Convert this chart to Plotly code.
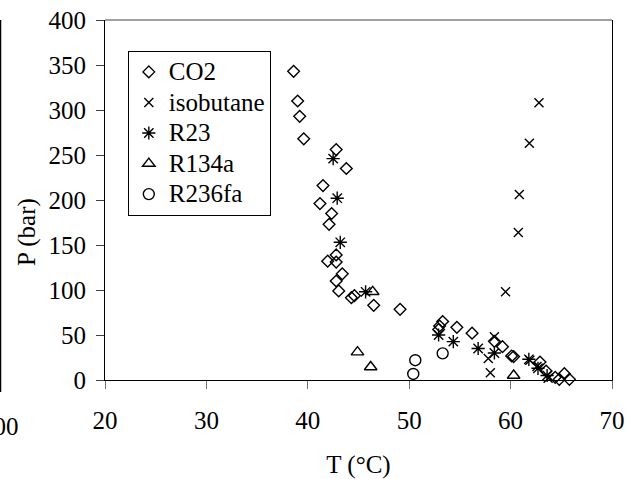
import plotly.graph_objects as go

FONT = "Liberation Serif"

# CO2
co2_T = [38.6, 39.0, 39.2, 39.6, 42.8, 43.8, 41.5, 41.2, 42.35, 42.1, 41.96, 42.8, 42.8,
         43.4, 42.8, 43.05, 44.3, 44.6, 46.5, 49.1, 53.3, 53.0, 52.9, 54.7, 56.2, 58.4,
         59.2, 60.1, 60.3, 62.9, 63.5, 64.4, 64.8, 65.3, 65.8]
co2_P = [343, 310, 293, 268, 256, 235, 216, 196, 185, 173, 132, 139, 131,
         118, 110, 99, 91.5, 93.7, 83, 78.5, 65, 60, 56, 58.5, 52, 43,
         37, 26.7, 26, 20, 10, 3, 0.7, 7, 0.7]

# isobutane
iso_T = [62.8, 61.85, 60.86, 60.76, 59.5, 58.4, 57.8, 58.0, 61.9, 62.6, 63.7]
iso_P = [308, 263, 206, 164, 98, 48, 24, 8, 22, 15, 2]

# R23
r23_T = [42.5, 42.9, 43.2, 45.7, 52.9, 54.35, 56.8, 58.4, 61.8, 62.7, 63.6]
r23_P = [246, 202, 153, 98, 50, 42.6, 35, 30, 23, 13, 5]

# R134a
r134_T = [44.9, 46.2, 46.4, 60.3]
r134_P = [31, 14.5, 98, 5]

# R236fa
r236_T = [50.4, 50.6, 53.3]
r236_P = [6.7, 22, 29.6]

series = [
    ("CO2", co2_T, co2_P, "diamond-open", 9),
    ("isobutane", iso_T, iso_P, "x-thin-open", 9),
    ("R23", r23_T, r23_P, "asterisk-open", 11),
    ("R134a", r134_T, r134_P, "triangle-up-open", 11),
    ("R236fa", r236_T, r236_P, "circle-open", 11),
]

fig = go.Figure()
for name, xs, ys, sym, sz in series:
    fig.add_trace(go.Scatter(
        x=xs, y=ys, mode="markers",
        name='<span style="font-size:25px">' + name + '</span>',
        cliponaxis=False,
        marker=dict(symbol=sym, size=sz, color="black", line=dict(color="black", width=1.4)),
    ))

fig.update_layout(
    width=634, height=479,
    margin=dict(l=105, r=22, t=20, b=99),
    paper_bgcolor="white", plot_bgcolor="white",
    font=dict(family=FONT, size=25, color="black"),
    showlegend=True,
    legend=dict(
        x=0.045, y=0.915, xanchor="left", yanchor="top",
        bgcolor="white", bordercolor="black", borderwidth=1,
        font=dict(family=FONT, size=21.2, color="black"),
        tracegroupgap=0,
    ),
    xaxis=dict(
        range=[20, 70], tick0=20, dtick=10, showgrid=False, zeroline=False,
        showline=True, linecolor="black", linewidth=1, automargin=False,
        ticks="outside", ticklen=8, tickcolor="#707070", tickwidth=1,
        ticklabelstandoff=10,
        tickfont=dict(family=FONT, size=25),
        title=dict(text="T (°C)", font=dict(family=FONT, size=25), standoff=22),
    ),
    yaxis=dict(
        range=[0, 400], tick0=0, dtick=50, showgrid=False, zeroline=False,
        showline=True, linecolor="black", linewidth=1, mirror=True, automargin=False,
        ticks="outside", ticklen=8, tickcolor="#404040", tickwidth=1,
        ticklabelstandoff=5,
        tickfont=dict(family=FONT, size=25),
    ),
    shapes=[
        dict(type="line", xref="paper", yref="paper", x0=0, x1=1, y0=1, y1=1,
             line=dict(color="#808080", width=1.5)),
        dict(type="line", xref="paper", yref="paper", x0=-0.2061, x1=-0.2061,
             y0=1.0, y1=-0.033, line=dict(color="black", width=1.5)),
    ],
    annotations=[
        dict(text="P (bar)", xref="paper", yref="paper", x=-0.154, y=0.411,
             textangle=-90, showarrow=False, xanchor="center", yanchor="middle",
             font=dict(family=FONT, size=25)),
        dict(text="100", xref="paper", yref="paper", x=-0.165, y=-0.128,
             showarrow=False, xanchor="right", yanchor="middle",
             font=dict(family=FONT, size=25)),
    ],
)

fig.write_html("out.html")
